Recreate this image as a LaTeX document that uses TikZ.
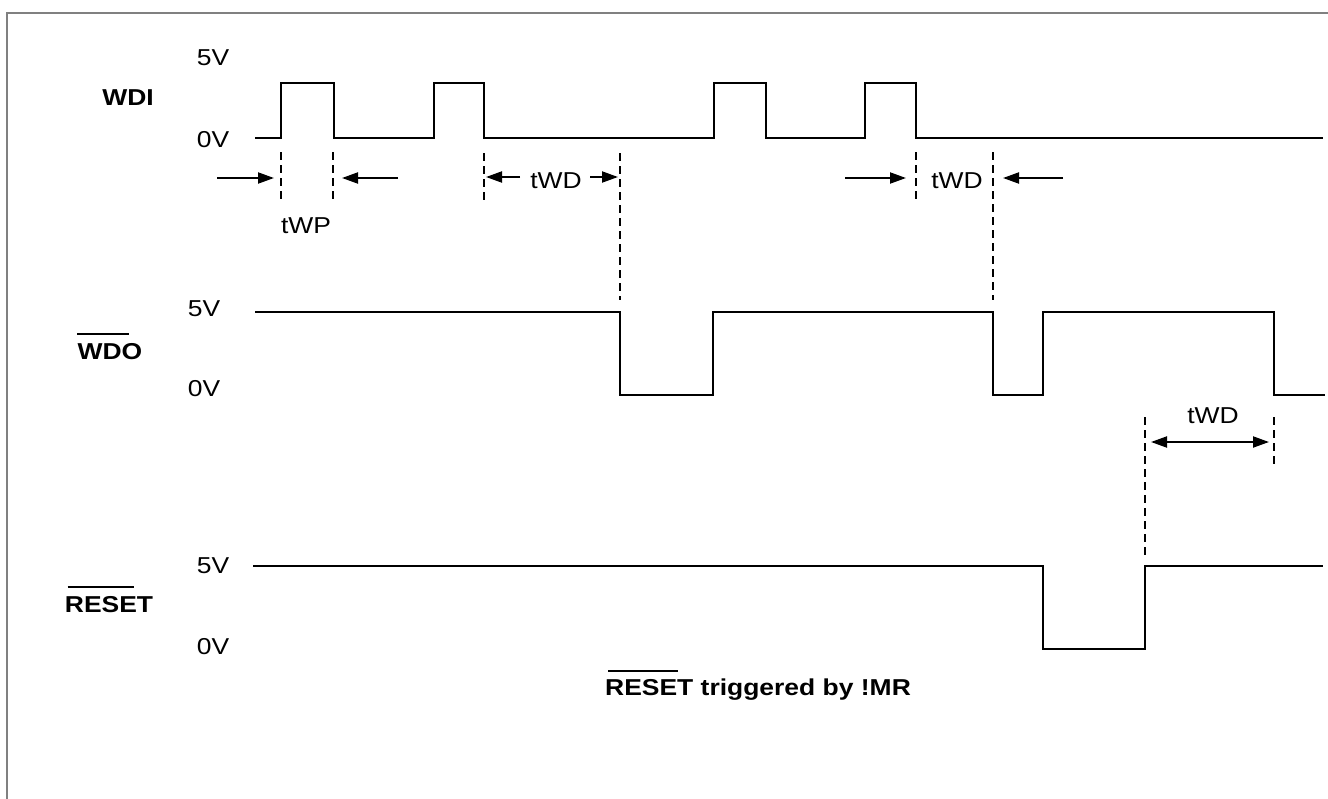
\documentclass[tikz,border=0pt]{standalone}
\usepackage{fontspec}
\setmainfont{Liberation Sans}
\usetikzlibrary{arrows.meta}
\newcommand{\widetext}[1]{\scalebox{1.15}[1]{#1}}
\begin{document}
\begin{tikzpicture}[x=1pt, y=-1pt,
    wave/.style={line width=2.2pt, line join=miter},
    guide/.style={line width=2.6pt, dash pattern=on 8pt off 5pt},
    dimarrow/.style={line width=2pt, -{Triangle[length=16pt,width=11pt]}},
    lvl/.style={font=\fontsize{23}{27}\selectfont, inner sep=0pt},
    signame/.style={font=\fontsize{23}{27}\selectfont\bfseries, inner sep=0pt},
    bar/.style={line width=2.2pt}]
    \useasboundingbox (0,0) rectangle (1328,798);
    \draw[gray, line width=2.5pt] (7,800) -- (7,13) -- (1330,13);

    % WDI
    \node[signame] at (128,98) (wdiLabel) {\widetext{WDI}};
    \node[lvl] at (213,58) (wdiHigh) {\widetext{5V}};
    \node[lvl] at (213,140) (wdiLow) {\widetext{0V}};
    \draw[wave] (255,138) -| (281,83) -| (334,138) -| (434,83) -| (484,138)
        -| (714,83) -| (766,138) -| (865,83) -| (916,138) -- (1323,138);

    % WDO
    \node[signame] at (110,352) (wdoLabel) {\widetext{WDO}};
    \draw[bar] ([yshift=10pt]wdoLabel.north west) -- +(52,0);
    \node[lvl] at (204,309) (wdoHigh) {\widetext{5V}};
    \node[lvl] at (204,389) (wdoLow) {\widetext{0V}};
    \draw[wave] (255,312) -| (620,395) -| (713,312) -| (993,395) -| (1043,312)
        -| (1274,395) -- (1325,395);

    % RESET
    \node[signame] at (109,605) (resetLabel) {\widetext{RESET}};
    \draw[bar] ([xshift=3pt,yshift=10pt]resetLabel.north west) -- +(66,0);
    \node[lvl] at (213,566) (resetHigh) {\widetext{5V}};
    \node[lvl] at (213,647) (resetLow) {\widetext{0V}};
    \draw[wave] (253,566) -| (1043,649) -| (1145,566) -- (1323,566);

    \node[signame, anchor=base west] at (605,695) (mrNote) {\widetext{RESET triggered by !MR}};
    \draw[bar] ([xshift=3pt,yshift=7pt]mrNote.north west) -- +(70,0);

    % tWP
    \draw[guide] (281,152) -- (281,203);
    \draw[guide] (333,152) -- (333,203);
    \coordinate (wpInL) at (217,178);
    \coordinate (wpInR) at (398,178);
    \draw[dimarrow] (wpInL) -- (274,178);
    \draw[dimarrow] (wpInR) -- (342,178);
    \node[lvl] at (306,226) (wpLabel) {\widetext{tWP}};

    % tWD after second pulse
    \draw[guide] (484,153) -- (484,203);
    \draw[guide] (620,153) -- (620,300);
    \node[lvl] at (556,181) (wdLabelA) {\widetext{tWD}};
    \coordinate (wdOutL) at (520,177);
    \coordinate (wdOutR) at (590,177);
    \draw[dimarrow] (wdOutL) -- (486,177);
    \draw[dimarrow] (wdOutR) -- (618,177);

    % tWD after fourth pulse
    \draw[guide] (916,152) -- (916,203);
    \draw[guide] (993,152) -- (993,300);
    \node[lvl] at (957,181) (wdLabelB) {\widetext{tWD}};
    \coordinate (wdInL) at (845,178);
    \coordinate (wdInR) at (1063,178);
    \draw[dimarrow] (wdInL) -- (906,178);
    \draw[dimarrow] (wdInR) -- (1003,178);

    % tWD before WDO falls
    \draw[guide] (1145,417) -- (1145,556);
    \draw[guide] (1274,417) -- (1274,467);
    \node[lvl] at (1213,416) (wdLabelC) {\widetext{tWD}};
    \coordinate (wdC1) at (1151,442);
    \coordinate (wdC2) at (1269,442);
    \draw[dimarrow, {Triangle[length=16pt,width=11pt]}-{Triangle[length=16pt,width=11pt]}] (wdC1) -- (wdC2);
\end{tikzpicture}
\end{document}
